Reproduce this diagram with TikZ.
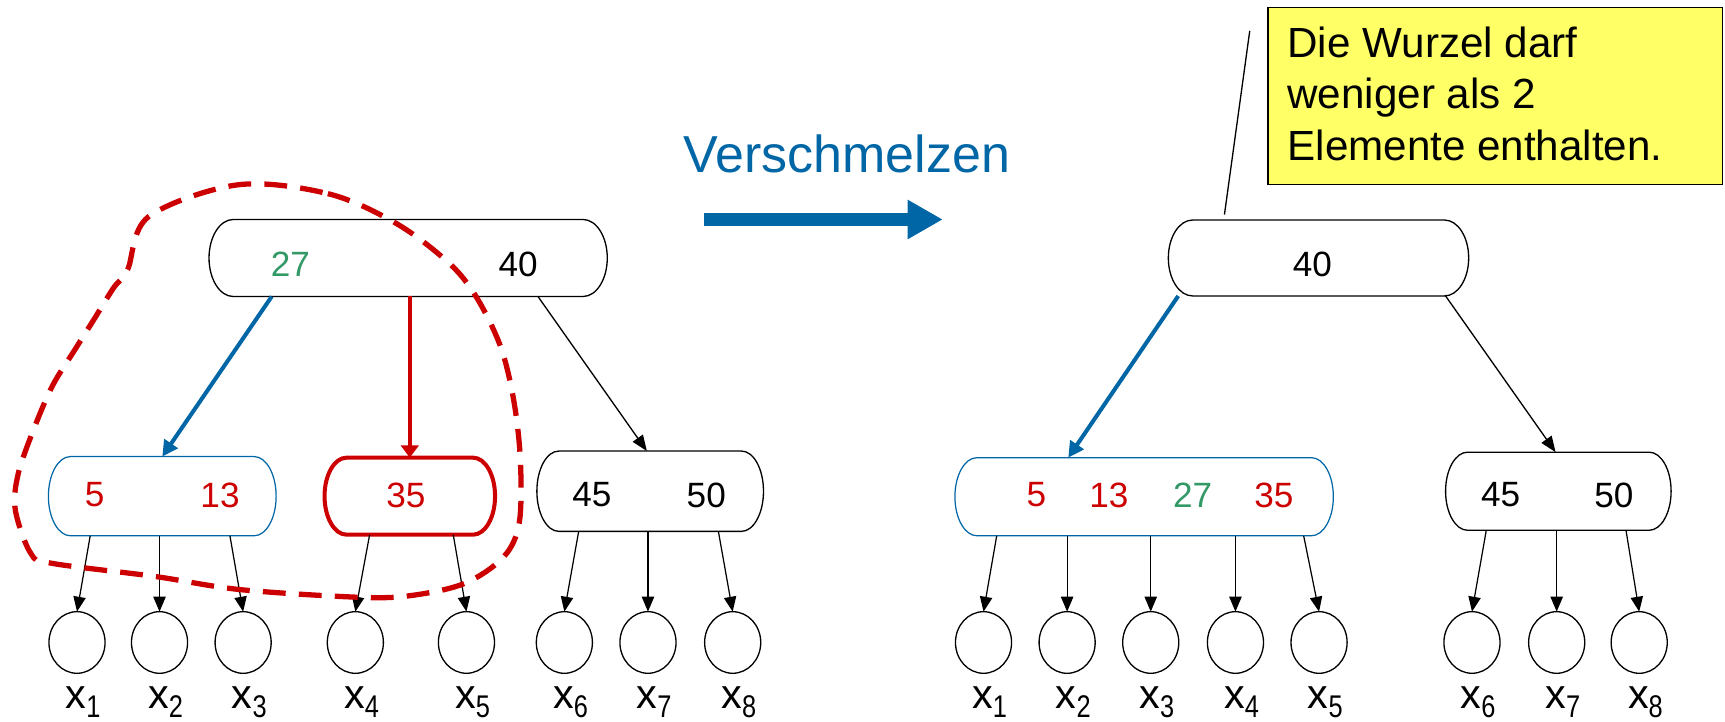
\documentclass[tikz,border=0pt]{standalone}
\usepackage{fontspec}
\usepackage{graphicx}
\setmainfont{Liberation Sans}
\usetikzlibrary{arrows.meta,shapes.geometric}
\definecolor{mblue}{HTML}{0066A6}
\definecolor{mred}{HTML}{CC0000}
\definecolor{mgreen}{HTML}{339966}
\definecolor{myellow}{HTML}{FFFF66}
\def\pxu{0.022cm}
\newcommand\capsule[7]{%
  \node[inner sep=0pt, outer sep=0pt, minimum width={#4*\pxu}, minimum height={#5*\pxu}] (#1) at (#2,#3) {};
  \draw[#7] ([xshift={#6*\pxu}]#1.north west)
     arc[start angle=90, end angle=270, x radius={#6*\pxu}, y radius={#5*\pxu/2}]
     -- ([xshift={-#6*\pxu}]#1.south east)
     arc[start angle=-90, end angle=90, x radius={#6*\pxu}, y radius={#5*\pxu/2}]
     -- cycle;}
\newcommand\xl[1]{x\raisebox{-5pt}{\fontsize{17}{17}\selectfont\scalebox{0.85}[1.05]{#1}}}
\tikzset{
  num/.style={font=\fontsize{20}{20}\selectfont, inner sep=0pt, anchor=center},
  leaf/.style={ellipse, draw, line width=0.75pt, minimum width={51*\pxu}, minimum height={56*\pxu}, inner sep=0pt, outer sep=0pt},
  lbl/.style={font=\fontsize{23.5}{23.5}\selectfont, inner sep=0pt, anchor=base west},
  larr/.style={line width=0.7pt, -{Triangle[length=8.5pt,width=7pt]}},
  blk/.style={line width=0.75pt},
  bluebox/.style={line width=0.7pt, draw=mblue},
  redbox/.style={line width=2.3pt, draw=mred},
  barr/.style={line width=2.3pt, draw=mblue, -{Triangle[length=9pt,width=9pt]}, color=mblue},
  rarr/.style={line width=2pt, draw=mred, -{Triangle[length=7pt,width=10pt]}, color=mred},
  karr/.style={line width=0.75pt, -{Triangle[length=9pt,width=7pt]}},
  lasso/.style={line width=3pt, draw=mred, dash pattern=on 13pt off 7.5pt},
  callout/.style={font=\fontsize{24}{24}\selectfont, inner sep=0pt, anchor=base west}
}
\begin{document}
\begin{tikzpicture}[x=0.022cm, y=-0.022cm]
\useasboundingbox (0,0) rectangle (1568,656);

% ---------- left tree ----------
\capsule{R1}{371}{234.5}{362}{70}{22}{blk}
\node[num, mgreen] (t27a) at (264,240) {27};
\node[num] (t40a) at (471,240) {40};

\capsule{A}{147.5}{451}{207}{72}{20}{bluebox}
\node[num, mred] (t5a) at (86,450) {5};
\node[num, mred] (t13a) at (200,450) {13};

\capsule{B}{372.5}{451}{155}{70}{20}{redbox}
\node[num, mred] (t35a) at (369,450) {35};

\capsule{C}{591}{446.5}{206}{73}{20}{blk}
\node[num] (t45a) at (538,450) {45};
\node[num] (t50a) at (642,450) {50};

\foreach \i/\x in {1/70,2/145,3/221,4/323,5/424,6/513,7/589,8/666}{
  \node[leaf] (L\i) at (\x,584) {};
  \node[lbl] (LL\i) at (\x-10.5,644) {\xl{\i}};
}

\draw[barr] ([xshift={-124*\pxu}]R1.south) -- (A.north);
\draw[rarr] (R1.south -| B.north) -- (B.north);
\draw[karr] ([xshift={118*\pxu}]R1.south) -- ([xshift={-3*\pxu}]C.north);

\draw[larr] ([xshift={-65.5*\pxu}]A.south) -- (L1.north);
\draw[larr] ([xshift={-2.5*\pxu}]A.south) -- (L2.north);
\draw[larr] ([xshift={61.5*\pxu}]A.south) -- (L3.north);
\draw[larr] ([xshift={-36.5*\pxu}]B.south) -- (L4.north);
\draw[larr] ([xshift={39.5*\pxu}]B.south) -- (L5.north);
\draw[larr] ([xshift={-65*\pxu}]C.south) -- (L6.north);
\draw[larr] ([xshift={-2*\pxu}]C.south) -- (L7.north);
\draw[larr] ([xshift={62*\pxu}]C.south) -- (L8.north);

\draw[lasso] plot[smooth cycle, tension=0.55] coordinates {
  (216,168) (298,176) (360,203) (408,239) (433,270) (455,315) (467,364)
  (473,418) (472,475) (458,506) (423,530) (376,541) (329,543) (219,536)
  (141,524) (47,512) (28,503) (14,464) (16,433) (28,397) (47,352) (68,318)
  (85,291) (103,262) (116,245) (135,197)};

% ---------- arrow ----------
\node[font=\fontsize{29.6}{30}\selectfont, text=mblue, inner sep=0pt, anchor=base west] (verb) at (621,157) {Verschmelzen};
\coordinate (vs) at (640,199.5);
\coordinate (ve) at (857,199.5);
\draw[line width=7pt, mblue, -{Triangle[length=20pt,width=21pt]}] (vs) -- (ve);

% ---------- right tree ----------
\capsule{R2}{1198.5}{234.5}{273}{69}{22}{blk}
\node[num] (t40b) at (1193,240) {40};

\capsule{M}{1040}{451.5}{344}{71}{20}{bluebox}
\node[num, mred] (t5b) at (942,450) {5};
\node[num, mred] (t13b) at (1008,450) {13};
\node[num, mgreen] (t27b) at (1084,450) {27};
\node[num, mred] (t35b) at (1158,450) {35};

\capsule{D}{1416.5}{446.5}{205}{71}{20}{blk}
\node[num] (t45b) at (1364,450) {45};
\node[num] (t50b) at (1467,450) {50};

\foreach \i/\x in {1/894,2/970,3/1046,4/1123,5/1199,6/1338,7/1415,8/1490}{
  \node[leaf] (P\i) at (\x,584) {};
  \node[lbl] (PL\i) at (\x-10.5,644) {\xl{\i}};
}

\draw[barr] ([xshift={-127.5*\pxu}]R2.south) -- ([xshift={-69*\pxu}]M.north);
\draw[karr] ([xshift={115.5*\pxu}]R2.south) -- ([xshift={-2.5*\pxu}]D.north);

\draw[larr] ([xshift={-134*\pxu}]M.south) -- (P1.north);
\draw[larr] ([xshift={-70*\pxu}]M.south) -- (P2.north);
\draw[larr] ([xshift={6*\pxu}]M.south) -- (P3.north);
\draw[larr] ([xshift={83*\pxu}]M.south) -- (P4.north);
\draw[larr] ([xshift={145*\pxu}]M.south) -- (P5.north);
\draw[larr] ([xshift={-65.5*\pxu}]D.south) -- (P6.north);
\draw[larr] ([xshift={-1.5*\pxu}]D.south) -- (P7.north);
\draw[larr] ([xshift={61.5*\pxu}]D.south) -- (P8.north);

% ---------- callout ----------
\node[draw, fill=myellow, line width=1pt, minimum width={413*\pxu}, minimum height={161*\pxu}, inner sep=0pt, anchor=north west] (note) at (1152,6) {};
\node[callout] (c1) at (1170,52) {Die Wurzel darf};
\node[callout] (c2) at (1170,99) {weniger als 2};
\node[callout] (c3) at (1170,146) {Elemente enthalten.};
\coordinate (ptr) at (1136,28);
\draw[line width=0.75pt] (ptr) -- ([xshift={-85.5*\pxu}, yshift={5*\pxu}]R2.north);
\end{tikzpicture}
\end{document}
